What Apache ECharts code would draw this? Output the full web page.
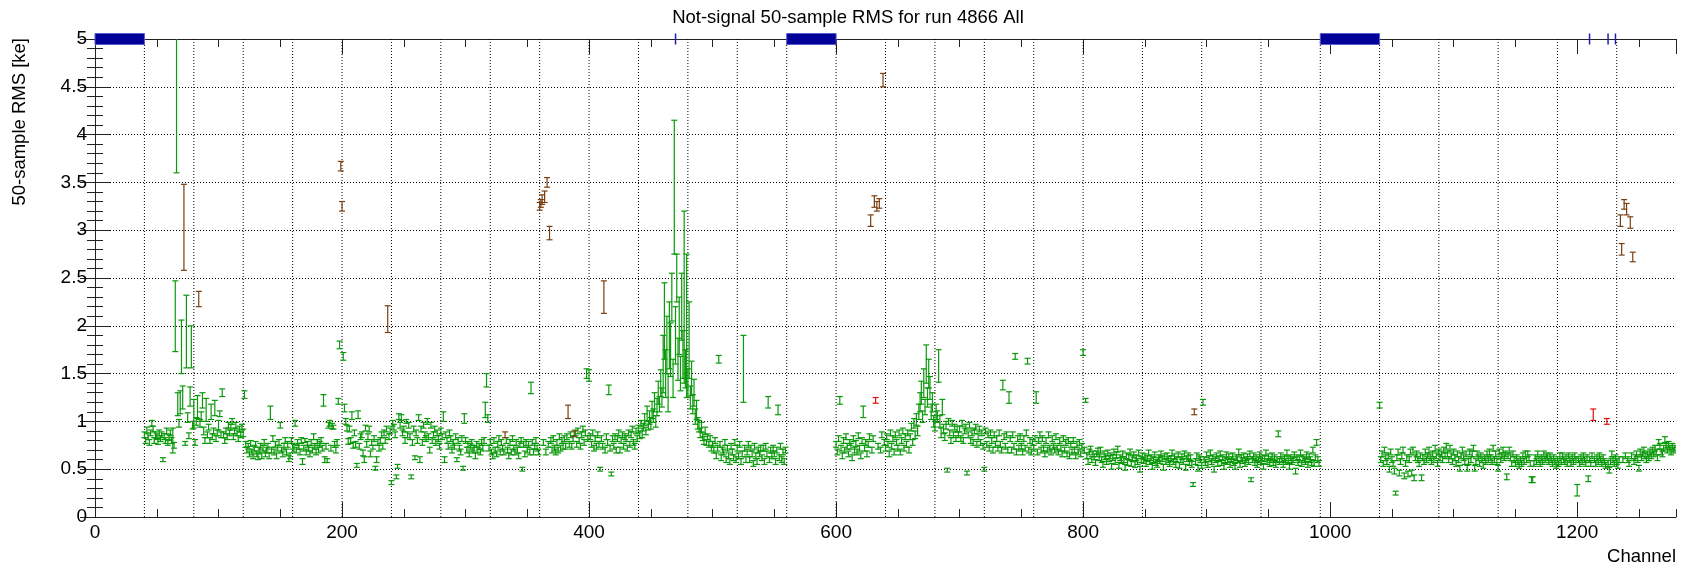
<!DOCTYPE html>
<html><head><meta charset="utf-8">
<script src="https://cdn.jsdelivr.net/npm/echarts@6/dist/echarts.min.js"></script>
<style>html,body{margin:0;padding:0;background:#fff}#c{width:1696px;height:569px}</style>
</head><body><div id="c"></div>
<script>
const chartTitle = "Not-signal 50-sample RMS for run 4866 All";
const yTitle = "50-sample RMS [ke]";
const xTitle = "Channel";
const yTicks = [0,0.5,1,1.5,2,2.5,3,3.5,4,4.5,5];

const gridX = [40,80,120,160,200,240,280,320,360,400,440,480,520,560,600,640,680,720,760,800,
               848,896,944,992,1040,1088,1136,1184,1232];
const deadRanges = [[0,40],[560,600],[992,1040]];
const deadSingles = [470,1210,1225,1231];

const g1Start = 40;
const g1Val = [
86,80,91,84,78,88,98,92,80,86, 84,79,88,82,86,60,84,80,90,78,
83,88,80,80,75,210,450,118,98,120, 178,125,null,77,194,104,85,126,178,96,
108,78,100,115,null,98,105,122,90,80, 112,86,94,80,110,84,90,114,82,88,
96,108,86,130,86,80,90,84,96,88, 94,100,84,90,96,88,82,92,86,94,
88,128,76,70,74,66,77,68,64,72, 76,66,63,70,74,64,72,78,66,70,
74,64,109,70,82,68,76,64,72,78, 96,70,66,74,80,68,76,61,64,80,
74,72,98,70,78,74,68,80,58,72, 80,68,76,72,66,78,70,84,74,68,
78,70,76,80,72,122,60,74,59,96, 98,72,95,94,76,70,78,121,180,null];
const g1Err = [
3,3,3,3,3,3,3,3,3,3, 3,3,3,3,3,2,3,3,3,3,
3,3,3,13,3,37,90,12,4,12, 28,12,0,2,38,5,3,10,22,4,
15,3,4,12,0,4,5,8,4,3, 12,3,3,3,8,3,3,8,3,3,
5,3,3,4,3,3,3,3,3,3, 3,3,3,3,3,3,3,3,3,3,
4,4,3,3,3,3,3,3,3,3, 3,3,3,3,3,3,3,3,3,3,
3,3,7,3,3,3,3,3,3,3, 3,3,3,3,3,3,3,3,3,3,
3,4,3,3,3,3,3,3,3,3, 2,3,3,3,3,3,3,3,3,3,
3,3,3,3,3,6,3,3,2,3, 3,3,3,2,3,3,3,3,4,0];

const g2Start = 200;
const g2Val = [
null,168,114,100,93,79,92,80,106,75, 88,76,54,107,74,84,86,67,60,93,
76,84,92,66,78,73,82,51,60,78, 72,80,86,74,88,80,92,null,84,90,
36,98,94,86,42,53,105,96,104,88, 92,80,100,86,96,84,42,78,92,62,
88,80,104,60,92,78,96,86,82,100, 84,70,96,80,86,92,78,88,82,74,
90,84,105,60,86,80,74,88,82,70, 78,74,84,60,80,72,68,82,51,103,
80,70,76,66,74,78,70,72,64,76, 70,74,68,78,72,80,112,143,103,72,
78,68,64,80,70,66,76,82,68,78, 72,68,null,80,70,64,78,68,82,72,
68,78,70,64,76,80,50,76,66,78, 70,76,68,135,78,68,74,80,72,68,
null,null,null,78,null,68,null,76,null,80, 70,82,72,68,78,70,84,72,80,74,
82,74,84,null,76,86,74,82,null,88, 76,90,80,74,86,92,78,88,150,82];
const g2Err = [
0,4,4,3,3,3,3,3,4,3, 3,3,2,4,3,3,3,3,3,3,
3,3,3,3,3,2,3,2,3,3, 3,3,3,3,3,3,3,0,3,3,
2,3,3,3,2,2,3,3,3,3, 3,3,2,3,3,3,2,3,3,2,
3,3,3,3,3,3,3,3,3,3, 3,3,3,3,3,3,3,3,3,3,
3,3,5,3,3,3,3,3,3,3, 3,3,3,2,3,3,3,3,2,5,
3,3,3,3,3,3,3,3,3,3, 3,3,3,3,3,3,8,7,4,3,
3,3,3,3,3,3,3,3,3,3, 3,3,0,3,3,3,3,3,3,3,
3,3,3,3,3,3,2,3,3,3, 3,3,3,6,3,3,3,3,3,3,
0,0,0,3,0,3,0,3,0,3, 3,3,3,3,3,3,3,3,3,3,
3,3,3,0,3,3,3,3,0,3, 3,3,3,3,3,3,3,3,5,3];

const g3Start = 400;
const g3Val = [
148,84,76,88,72,82,74,86,76,50, 82,74,null,70,84,78,133,72,45,82,
74,84,70,82,88,70,80,86,74,84, 82,72,88,76,86,92,78,74,90,82,
92,86,98,88,94,102,90,108,96,104, 98,112,106,120,100,115,130,118,140,125,
160,205,150,180,130,190,175,230,145,345, 190,250,165,200,150,220,170,230,155,200,
140,185,125,145,118,130,105,112,98,95, 88,94,84,80,90,78,84,76,82,72,
76,70,80,64,72,165,76,62,70,68, 78,60,72,64,58,74,68,62,78,60,
72,64,76,58,66,155,72,60,68,76, 60,72,66,56,74,64,58,70,66,72,
62,72,58,74,66,120,60,70,64,72, 66,58,70,112,62,74,60,68,58,70];
const g3Err = [
6,3,3,3,3,3,3,3,3,2, 3,3,0,3,3,3,5,3,2,3,
3,3,3,3,3,3,3,3,3,3, 3,3,3,3,3,3,3,3,3,3,
4,4,3,5,4,6,4,8,5,7, 6,9,7,10,6,9,12,8,14,10,
30,40,25,30,20,35,28,25,20,70, 30,25,22,30,18,35,25,90,20,75,
15,40,12,18,10,14,8,10,6,6, 5,5,4,4,4,3,3,3,3,3,
3,3,3,3,3,4,3,3,3,3, 3,3,3,3,3,3,3,3,3,3,
3,3,3,3,3,35,3,3,3,3, 3,3,3,3,3,3,3,3,3,3,
3,3,3,3,3,6,3,3,3,3, 3,3,3,5,3,3,3,3,3,3];

const g4Start = 600;
const g4Val = [
76,68,82,122,72,64,80,70,84,74, 66,78,74,62,82,70,77,68,85,72,
64,80,110,72,78,66,76,84,null,70, 82,null,null,null,74,null,70,86,null,78,
72,84,76,66,88,74,82,68,86,78, 72,88,68,80,90,72,84,76,88,70,
84,94,78,98,86,102,90,110,120,130, 105,140,115,160,125,150,135,110,120,100,
95,110,105,158,100,88,115,92,84,96, 49,100,88,80,98,86,94,82,92,86,
92,82,98,80,90,94,46,86,96,80, 88,78,90,94,76,84,92,78,88,74,
50,90,76,86,72,88,80,70,86,76, 82,72,88,76,70,138,84,74,86,70,
125,82,70,86,74,168,68,82,72,84, 74,68,82,72,88,163,70,80,68,78,
72,82,125,68,80,86,70,82,72,66, 80,70,86,72,68,82,74,70,84,72,
68,80,72,66,82,70,78,66,80,64, 76,68,80,70,64,76,68,78,66,74];
const g4Err = [
3,3,3,4,3,3,3,3,3,3, 3,3,3,3,3,3,3,3,3,3,
3,3,6,3,3,3,3,3,0,3, 3,0,0,0,3,0,3,3,0,3,
3,3,3,3,3,3,3,3,3,3, 3,3,3,3,3,3,3,3,3,3,
3,4,3,5,4,6,5,8,10,12, 6,15,8,20,10,15,12,8,10,6,
5,8,6,17,6,5,8,5,4,4, 2,3,3,3,3,3,3,3,3,3,
3,3,3,3,3,3,2,3,3,3, 3,3,3,3,3,3,3,3,3,3,
2,3,3,3,3,3,3,3,3,3, 3,3,3,3,3,5,3,3,3,3,
6,3,3,3,3,3,3,3,3,3, 3,3,3,3,3,3,3,3,3,3,
3,3,6,3,3,3,3,3,3,3, 3,3,3,3,3,3,3,3,3,3,
3,3,3,3,3,3,3,3,3,3, 3,3,3,3,3,3,3,3,3,3];

const g5Start = 800;
const g5Val = [
172,70,122,64,58,68,71,60,66,63, 57,66,69,62,70,60,55,66,63,58,
67,61,64,53,62,68,58,65,71,54, 62,59,66,60,52,64,57,63,68,56,
61,65,55,62,58,67,50,60,64,59, 63,56,61,67,58,62,53,60,65,57,
55,62,59,66,61,52,63,58,64,60, 56,61,67,58,63,55,60,65,54,60,
63,58,66,52,61,64,57,62,55,34, null,58,64,51,62,60,54,120,60,57,
65,55,61,67,58,62,50,60,64,56, 61,66,57,62,53,60,65,58,63,55,
60,64,57,53,62,60,68,55,62,59, 64,56,60,63,58,66,39,60,64,57,
62,55,60,65,58,62,53,61,67,58, 63,56,60,64,57,62,55,60,87,58,
64,60,55,62,58,67,60,53,62,58, 60,65,48,62,57,60,67,56,62,60,
58,65,55,63,60,57,70,56,62,78, 60,56];
const g5Err = [
3,3,2,3,3,3,3,3,3,3, 3,3,3,3,3,3,3,3,3,3,
3,3,3,3,3,3,3,3,3,3, 3,3,3,3,3,3,3,3,3,3,
3,3,3,3,3,3,3,3,3,3, 3,3,3,3,3,3,3,3,3,3,
3,3,3,3,3,3,3,3,3,3, 3,3,3,3,3,3,3,3,3,3,
3,3,3,3,3,3,3,3,3,2, 0,3,3,3,3,3,3,3,3,3,
3,3,3,3,3,3,3,3,3,3, 3,3,3,3,3,3,3,3,3,3,
3,3,3,3,3,3,3,3,3,3, 3,3,3,3,3,3,2,3,3,3,
3,3,3,3,3,3,3,3,3,3, 3,3,3,3,3,3,3,3,3,3,
3,3,3,3,3,3,3,3,3,3, 3,3,3,3,3,3,3,3,3,3,
3,3,3,3,3,3,3,3,3,3, 3,3];

const g6Start = 1040;
const g6Val = [
117,60,66,56,70,62,58,64,50,68, 60,56,48,25,62,68,46,58,64,70,
43,56,62,45,60,68,46,70,41,62, 66,60,56,64,41,62,58,68,60,64,
70,62,58,66,60,72,64,56,68,62, 66,60,70,64,74,66,60,72,64,58,
68,62,56,66,60,51,64,70,62,58, 66,51,58,68,60,66,72,51,58,66,
62,56,64,60,54,62,58,66,60,68, 62,58,72,60,66,58,51,68,60,64,
70,62,66,42,64,70,62,56,66,60, 56,62,58,54,60,56,64,58,66,60,
66,62,56,39,39,56,62,58,66,60, 56,62,58,66,60,64,62,58,64,60,
56,62,58,54,60,56,64,58,64,60, 58,62,56,64,60,56,62,58,64,60,
28,60,56,62,58,64,60,56,62,40, 60,56,64,null,60,56,62,58,64,60,
56,62,58,54,null,56,49,58,66,60, 56,62,58,54,60,null,null,60,null,64,
null,60,56,null,64,null,58,62,66,60, 51,68,62,66,70,64,60,66,62,68,
64,70,66,72,68,62,78,74,68,66, 72,81,74,70,76,72,68,74,70,72];
const g6Err = [
3,3,3,3,3,3,3,3,3,3, 3,3,3,2,3,3,3,3,3,3,
3,3,3,3,3,3,3,3,3,3, 3,3,3,3,3,3,3,3,3,3,
3,3,3,3,3,3,3,3,3,3, 3,3,3,3,3,3,3,3,3,3,
3,3,3,3,3,3,3,3,3,3, 3,3,3,3,3,3,3,3,3,3,
3,3,3,3,3,3,3,3,3,3, 3,3,3,3,3,3,3,3,3,3,
3,3,3,3,3,3,3,3,3,3, 3,3,3,3,3,3,3,3,3,3,
3,3,3,3,3,3,3,3,3,3, 3,3,3,3,3,3,3,3,3,3,
3,3,3,3,3,3,3,3,3,3, 3,3,3,3,3,3,3,3,3,3,
6,3,3,3,3,3,3,3,3,3, 3,3,3,0,3,3,3,3,3,3,
3,3,3,3,0,3,3,3,3,3, 3,3,3,3,3,0,0,3,0,3,
0,3,3,0,3,0,3,3,3,3, 3,3,3,3,3,3,3,3,3,3,
3,3,3,3,3,3,3,3,3,3, 3,3,3,3,3,3,3,3,3,3];

const brownPts = [[72,303,45],[84,228,8],[199,367,5],[200,325,5],[237,207,14],[332,86,3],
 [360,325,4],[361,328,4],[362,332,5],[364,335,6],[366,350,5],[368,297,7],[383,110,7],[388,87,3],
 [412,230,17],[628,310,6],[631,330,6],[633,325,5],[635,328,5],[638,457,7],[890,110,3],
 [1235,310,6],[1236,280,6],[1238,327,5],[1240,322,6],[1243,308,6],[1245,272,5]];
const redPts = [[632,122,3],[1213,107,6],[1224,100,3]];

function toPts(start, vals, errs){
  const out=[];
  vals.forEach((v,i)=>{ if(v!=null) out.push([start+i, v/100, errs[i]/100]); });
  return out;
}
const greenPts = [].concat(
  toPts(g1Start,g1Val,g1Err), toPts(g2Start,g2Val,g2Err), toPts(g3Start,g3Val,g3Err),
  toPts(g4Start,g4Val,g4Err), toPts(g5Start,g5Val,g5Err), toPts(g6Start,g6Val,g6Err));
const scaled = a => a.map(p=>[p[0], p[1]/100, p[2]/100]);

const FONT = '"Liberation Sans", Arial, Helvetica, sans-serif';

function errBar(color){
  return function(params, api){
    const x=api.value(0), v=api.value(1), e=api.value(2);
    const p0=api.coord([x, v-e]), p1=api.coord([x, v+e]);
    const hw=3;
    const style={stroke:color, lineWidth:1.2};
    return {type:'group', children:[
      {type:'line', shape:{x1:p0[0],y1:p0[1],x2:p1[0],y2:p1[1]}, style:style},
      {type:'line', shape:{x1:p0[0]-hw,y1:p0[1],x2:p0[0]+hw,y2:p0[1]}, style:style},
      {type:'line', shape:{x1:p1[0]-hw,y1:p1[1],x2:p1[0]+hw,y2:p1[1]}, style:style}
    ]};
  };
}

const chart = echarts.init(document.getElementById('c'), null, {renderer:'canvas'});
const axisLineStyle = {color:'#222', width:1};
const xBase = {type:'value', min:0, max:1280, gridIndex:0, splitLine:{show:false}};
chart.setOption({
  animation:false,
  backgroundColor:'#fff',
  grid:{left:95, right:20, top:39, bottom:52, containLabel:false},
  xAxis:[
    Object.assign({}, xBase, {position:'bottom', interval:200,
      axisLine:{show:true, lineStyle:axisLineStyle},
      axisTick:{show:true, inside:true, length:15, lineStyle:axisLineStyle},
      axisLabel:{show:true, margin:6, fontSize:19, color:'#000', fontFamily:FONT, showMaxLabel:false,
        formatter:v=> (v%200===0 ? String(v) : '')}}),
    Object.assign({}, xBase, {position:'bottom', interval:50,
      axisLine:{show:false}, axisTick:{show:true, inside:true, length:8, lineStyle:axisLineStyle},
      axisLabel:{show:false}}),
    Object.assign({}, xBase, {position:'top', interval:200,
      axisLine:{show:true, lineStyle:axisLineStyle},
      axisTick:{show:true, inside:true, length:15, lineStyle:axisLineStyle},
      axisLabel:{show:false}}),
    Object.assign({}, xBase, {position:'top', interval:50,
      axisLine:{show:false}, axisTick:{show:true, inside:true, length:8, lineStyle:axisLineStyle},
      axisLabel:{show:false}})
  ],
  yAxis:[
    {type:'value', min:yTicks[0], max:yTicks[yTicks.length-1], interval:0.5, position:'left',
      axisLine:{show:true, lineStyle:axisLineStyle},
      axisTick:{show:true, inside:true, length:15, lineStyle:axisLineStyle},
      minorTick:{show:true, splitNumber:5, length:8, lineStyle:axisLineStyle},
      axisLabel:{show:true, margin:8, fontSize:19, color:'#000', fontFamily:FONT},
      splitLine:{show:true, lineStyle:{color:'#000', width:1, type:[1,2]}}},
    {type:'value', min:0, max:5, interval:0.5, position:'right',
      axisLine:{show:true, lineStyle:axisLineStyle},
      axisTick:{show:true, inside:true, length:15, lineStyle:axisLineStyle},
      minorTick:{show:true, splitNumber:5, length:8, lineStyle:axisLineStyle},
      axisLabel:{show:false}, splitLine:{show:false}}
  ],
  graphic:[
    {type:'text', x:848, y:18, style:{text:chartTitle, font:'18.5px '+FONT, fill:'#000', textAlign:'center', textVerticalAlign:'middle'}},
    {type:'text', x:20, y:38, rotation:Math.PI/2, style:{text:yTitle, font:'18.5px '+FONT, fill:'#000', textAlign:'right', textVerticalAlign:'middle'}},
    {type:'text', x:1676, y:557, style:{text:xTitle, font:'18.5px '+FONT, fill:'#000', textAlign:'right', textVerticalAlign:'middle'}}
  ],
  series:[
    {type:'custom', name:'grid', xAxisIndex:0, yAxisIndex:0, z:1, silent:true,
      data:gridX.map(x=>[x]),
      renderItem:function(params, api){
        const x=api.value(0); const a=api.coord([x,0]), b=api.coord([x,5]);
        return {type:'line', shape:{x1:a[0],y1:a[1],x2:b[0],y2:b[1]}, style:{stroke:'#000', lineWidth:1, lineDash:[1,2]}};
      }},
    {type:'custom', name:'green', xAxisIndex:0, yAxisIndex:0, z:3, clip:true, data:greenPts, renderItem:errBar('#0a990a')},
    {type:'custom', name:'brown', xAxisIndex:0, yAxisIndex:0, z:4, clip:true, data:scaled(brownPts), renderItem:errBar('#7a3f10')},
    {type:'custom', name:'red', xAxisIndex:0, yAxisIndex:0, z:4, clip:true, data:scaled(redPts), renderItem:errBar('#e01010')},
    {type:'custom', name:'deadRanges', xAxisIndex:0, yAxisIndex:0, z:5, clip:false, data:deadRanges,
      renderItem:function(params, api){
        const a=api.coord([api.value(0),5]), b=api.coord([api.value(1),5]);
        return {type:'rect', shape:{x:a[0], y:a[1]-5.5, width:b[0]-a[0], height:11},
          style:{fill:'#000099', stroke:'#5a5ad0', lineWidth:1}};
      }},
    {type:'custom', name:'deadSingles', xAxisIndex:0, yAxisIndex:0, z:5, clip:false, data:deadSingles.map(x=>[x]),
      renderItem:function(params, api){
        const a=api.coord([api.value(0),5]);
        return {type:'line', shape:{x1:a[0], y1:a[1]-5.5, x2:a[0], y2:a[1]+5.5}, style:{stroke:'#2020b0', lineWidth:1.5}};
      }}
  ]
});
</script>
</body></html>
